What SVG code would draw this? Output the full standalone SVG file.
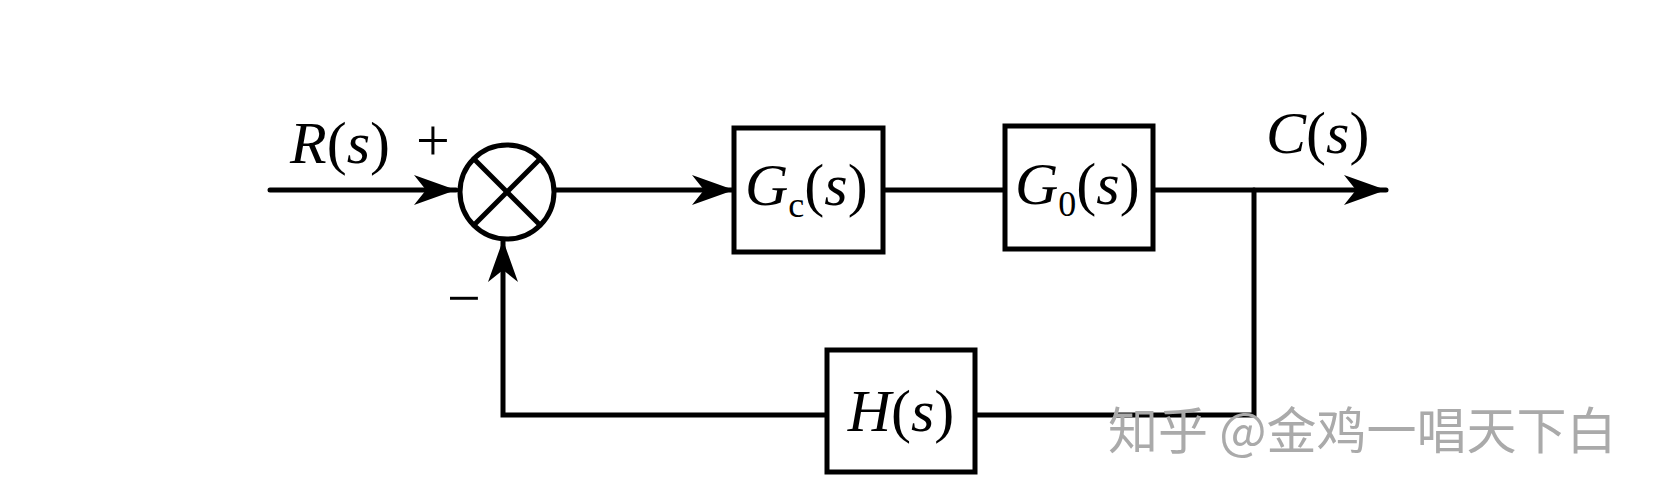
<svg xmlns="http://www.w3.org/2000/svg" width="1654" height="496" viewBox="0 0 1654 496">
<style>
.ln{stroke:#000;stroke-width:5;fill:none;stroke-linecap:round}
.bx{stroke:#000;stroke-width:5;fill:#fff}
.t{font-family:'Liberation Serif','Times New Roman','DejaVu Serif',serif;font-size:60px;fill:#000}
.i{font-style:italic}
.sub{font-size:36px}
</style>
<defs>
<marker id="a" markerUnits="userSpaceOnUse" markerWidth="46" markerHeight="34" refX="42" refY="15" orient="auto">
<path d="M0,0 L42,15 L0,30 L12,15 Z" fill="#000"/>
</marker>
</defs>
<rect width="1654" height="496" fill="#fff"/>
<g id="connectors">
<line class="ln" x1="270" y1="190" x2="456" y2="190" marker-end="url(#a)"/>
<line class="ln" x1="555" y1="190" x2="734" y2="190" marker-end="url(#a)"/>
<line class="ln" x1="883" y1="190" x2="1005" y2="190"/>
<line class="ln" x1="1153" y1="190" x2="1386" y2="190" marker-end="url(#a)"/>
<polyline class="ln" points="1254,190 1254,415 975,415"/>
<polyline class="ln" points="827,415 503,415 503,240" marker-end="url(#a)"/>
</g>
<g id="sum">
<circle cx="507" cy="192" r="47" class="bx"/>
<line class="ln" x1="474" y1="159" x2="540" y2="225"/>
<line class="ln" x1="540" y1="159" x2="474" y2="225"/>
</g>
<g id="Gc">
<rect x="734" y="128" width="149" height="124" class="bx"/>
<text class="t" x="745" y="205"><tspan class="i">G</tspan><tspan class="sub" dy="12">c</tspan><tspan dy="-12">(</tspan><tspan class="i">s</tspan>)</text>
</g>
<g id="G0">
<rect x="1005" y="126" width="148" height="123" class="bx"/>
<text class="t" x="1015" y="204"><tspan class="i">G</tspan><tspan class="sub" dy="12">0</tspan><tspan dy="-12">(</tspan><tspan class="i">s</tspan>)</text>
</g>
<g id="H">
<rect x="827" y="350" width="148" height="122" class="bx"/>
<text class="t" x="901" y="431" text-anchor="middle"><tspan class="i">H</tspan>(<tspan class="i">s</tspan>)</text>
</g>
<g id="labels">
<text class="t" x="290" y="163"><tspan class="i">R</tspan>(<tspan class="i">s</tspan>)</text>
<text class="t" x="1266" y="153"><tspan class="i">C</tspan>(<tspan class="i">s</tspan>)</text>
<text class="t" x="433" y="160" text-anchor="middle" font-size="46">+</text>
<text class="t" x="464" y="318" text-anchor="middle" font-size="46">−</text>
<text x="1108" y="449" font-family="'Noto Sans CJK SC',sans-serif" font-size="50" fill="#aaa">知乎 @金鸡一唱天下白</text>
</g>
</svg>
